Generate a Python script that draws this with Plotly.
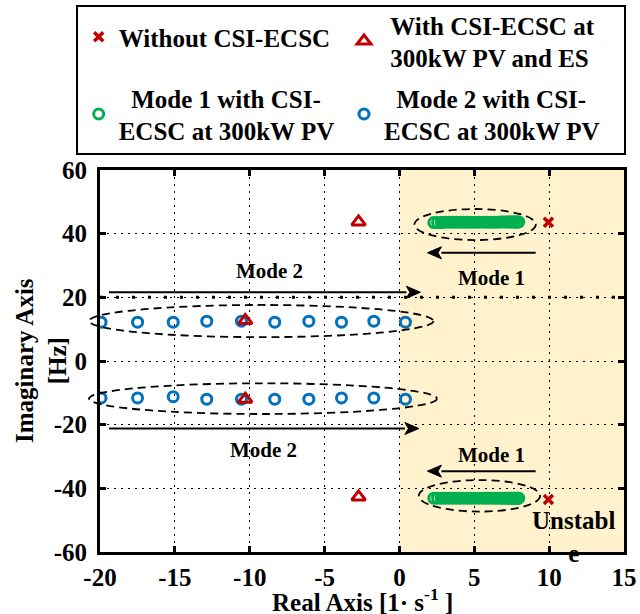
import plotly.graph_objects as go

# ---------------- data ----------------
no_ecsc_re = [9.95, 9.95]
no_ecsc_im = [43.6, -43.5]

pv_es_re = [-2.73, -10.3, -10.3, -2.73]
pv_es_im = [43.7, 12.7, -12.0, -42.7]

mode1_re = [2.3, 2.55, 2.8, 3.05, 3.3, 3.55, 3.8, 4.05, 4.3, 4.55, 4.8, 5.05, 5.3, 5.6,
            5.85, 6.1, 6.35, 6.55, 6.75, 6.9, 7.05, 7.2, 7.3, 7.4, 7.5, 7.6, 7.68, 7.75,
            7.82, 7.88, 7.93, 7.97]
mode1_im_up = [43.5, 43.5, 43.5, 43.6, 43.6, 43.6, 43.6, 43.6, 43.6, 43.6, 43.6, 43.6, 43.6, 43.6,
               43.6, 43.6, 43.6, 43.6, 43.7, 43.7, 43.7, 43.7, 43.7, 43.7, 43.7, 43.7, 43.7, 43.7,
               43.7, 43.7, 43.7, 43.7]
mode1_im_dn = [-43.1, -43.1, -43.1, -43.1, -43.1, -43.1, -43.1, -43.1, -43.1, -43.1, -43.1, -43.1, -43.1, -43.1,
               -43.1, -43.1, -43.1, -43.1, -43.1, -43.1, -43.1, -43.1, -43.1, -43.1, -43.1, -43.1, -43.1, -43.1,
               -43.1, -43.1, -43.1, -43.1]

mode2_re = [-19.93, -17.49, -15.11, -12.87, -10.55, -8.33, -6.05, -3.87, -1.71, 0.4]
mode2_im_up = [12.2, 12.2, 12.2, 12.5, 12.5, 12.2, 12.5, 12.2, 12.5, 12.2]
mode2_im_dn = [-11.6, -11.6, -11.2, -12.0, -12.0, -12.0, -12.0, -11.6, -11.6, -12.0]

x_ticks = [-20, -15, -10, -5, 0, 5, 10, 15]
y_ticks = [-60, -40, -20, 0, 20, 40, 60]
x_range = [-20, 15]
y_range = [-60, 60]

# ellipse outlines: (x0, x1, y0, y1) in data units
ellipses = [(1.0, 9.11, 38.0, 47.75), (1.29, 9.4, -47.3, -37.4),
            (-20.73, 2.27, 7.5, 17.6), (-20.73, 2.5, -16.65, -7.0)]

# arrows: (tail x, tail y, head x, head y) in data units
arrows = [(-19.4, 21.6, 1.4, 21.6), (-19.4, -21.2, 1.3, -21.2),
          (9.1, 34.0, 1.87, 34.0), (9.1, -34.6, 1.87, -34.6)]

RED, GREEN, BLUE, SHADE = "#C00000", "#00B050", "#0070C0", "#FFF2CC"
FONT = "Liberation Serif"
FS = 25
W, H = 640, 614
ML, MR, MT, MB = 100, 16, 170, 62
PW, PH = W - ML - MR, H - MT - MB

NB = "\u00a0"


def bfont(size):
    return dict(family=FONT, size=size, color="black", weight="bold")


def legend_at(sym_x_px, sym_y_px):
    return dict(xref="container", yref="container",
                x=(sym_x_px - 18) / W, y=1 - sym_y_px / H,
                xanchor="left", yanchor="middle", borderwidth=0,
                bgcolor="rgba(0,0,0,0)", valign="middle", font=bfont(FS),
                itemclick=False, itemdoubleclick=False)


fig = go.Figure()

fig.add_trace(go.Scatter(
    x=mode2_re + mode2_re, y=mode2_im_up + mode2_im_dn, mode="markers",
    name=NB + NB + "Mode 2 with CSI-<br>ECSC at 300kW PV", legend="legend4",
    marker=dict(symbol="circle-open", size=10, color=BLUE, line=dict(width=3, color=BLUE))))
fig.add_trace(go.Scatter(
    x=mode1_re + mode1_re, y=mode1_im_up + mode1_im_dn, mode="markers",
    name=NB + NB + "Mode 1 with CSI-<br>ECSC at 300kW PV", legend="legend3",
    marker=dict(symbol="circle-open", size=10, color=GREEN, line=dict(width=3, color=GREEN))))
fig.add_trace(go.Scatter(
    x=pv_es_re, y=pv_es_im, mode="markers",
    name=NB + "With CSI-ECSC at<br>" + NB + "300kW PV and ES", legend="legend2",
    marker=dict(symbol="triangle-up-open", size=12, color=RED, line=dict(width=3, color=RED))))
fig.add_trace(go.Scatter(
    x=no_ecsc_re, y=no_ecsc_im, mode="markers",
    name="Without CSI-ECSC", legend="legend",
    marker=dict(symbol="x-thin-open", size=9, color=RED, line=dict(width=3.5, color=RED))))

# unstable region shading
fig.add_shape(type="rect", xref="x", yref="y", x0=0, x1=x_range[1], y0=y_range[0], y1=y_range[1],
              fillcolor=SHADE, line=dict(width=0), layer="below")
# heavy dotted line at Im = 20
fig.add_shape(type="line", xref="x", yref="y", x0=x_range[0], x1=x_range[1], y0=20, y1=20,
              line=dict(color="black", width=3, dash="3px,13px"), layer="above")


def px(v):
    return (v - x_range[0]) / (x_range[1] - x_range[0])


def py(v):
    return (v - y_range[0]) / (y_range[1] - y_range[0])


for (ex0, ex1, ey0, ey1) in ellipses:
    fig.add_shape(type="circle", xref="paper", yref="paper",
                  x0=px(ex0), x1=px(ex1), y0=py(ey0), y1=py(ey1),
                  line=dict(color="black", width=1.8, dash="8px,5px"), layer="above")

# arrows drawn as a line plus a filled head
HEAD_LEN = 14 * (x_range[1] - x_range[0]) / PW      # 14 px long
HEAD_HALF = 6 * (y_range[1] - y_range[0]) / PH      # 12 px wide
for (tx, ty, hx, hy) in arrows:
    d = 1 if hx > tx else -1
    bx = hx - d * HEAD_LEN
    fig.add_shape(type="line", xref="x", yref="y", x0=tx, y0=ty, x1=bx, y1=hy,
                  line=dict(color="black", width=2), layer="above")
    fig.add_shape(type="path", xref="x", yref="y",
                  path=f"M {hx} {hy} L {bx} {hy + HEAD_HALF} L {bx + d * HEAD_LEN * 0.25} {hy} "
                       f"L {bx} {hy - HEAD_HALF} Z",
                  fillcolor="black", line=dict(color="black", width=1), layer="above")

labels = [(-8.7, 28.3, "Mode 2", 21), (-9.05, -27.9, "Mode 2", 21),
          (6.18, 26.0, "Mode 1", 21), (6.18, -29.4, "Mode 1", 21),
          (11.6, -55.3, "Unstabl<br>e", FS)]
for (lx, ly, t, fs) in labels:
    fig.add_annotation(x=lx, y=ly, xref="x", yref="y", text=t, showarrow=False,
                       font=bfont(fs))

# axis titles
fig.add_annotation(xref="paper", yref="paper", x=(41 - ML) / PW, y=0.5, textangle=-90,
                   text="Imaginary Axis<br>[Hz]", showarrow=False, font=bfont(FS),
                   xanchor="center", yanchor="middle")
fig.add_annotation(xref="paper", yref="paper", x=0.5, y=-(600 - (H - MB)) / PH,
                   text="Real Axis [1· s<sup>-1</sup> ]", showarrow=False, font=bfont(FS),
                   xanchor="center", yanchor="middle")

# legend frame
fig.add_shape(type="rect", xref="paper", yref="paper",
              x0=(77 - ML) / PW, x1=(625 - ML) / PW,
              y0=(H - MB - 154) / PH, y1=(H - MB - 6) / PH,
              line=dict(color="black", width=2), fillcolor="rgba(0,0,0,0)", layer="above")

axis_common = dict(
    showline=True, linecolor="black", linewidth=3, mirror="ticks",
    ticks="inside", ticklen=6, tickwidth=2.5, tickcolor="black",
    showgrid=True, gridcolor="black", gridwidth=1.3, griddash="1.5px,5.5px",
    zeroline=False, tickfont=bfont(FS),
)

fig.update_xaxes(range=x_range, tickvals=x_ticks, ticktext=[str(v) for v in x_ticks],
                 ticklabelstandoff=1, **axis_common)
fig.update_yaxes(range=y_range, tickvals=y_ticks, ticktext=[str(v) for v in y_ticks],
                 ticklabelstandoff=5, **axis_common)

fig.update_layout(
    width=W, height=H,
    margin=dict(l=ML, r=MR, t=MT, b=MB, autoexpand=False),
    paper_bgcolor="white", plot_bgcolor="white",
    font=bfont(FS),
    showlegend=True,
    legend=legend_at(96.7, 37),
    legend2=legend_at(362, 41),
    legend3=legend_at(96.7, 114),
    legend4=legend_at(362, 114),
)

fig.write_html("out.html")
